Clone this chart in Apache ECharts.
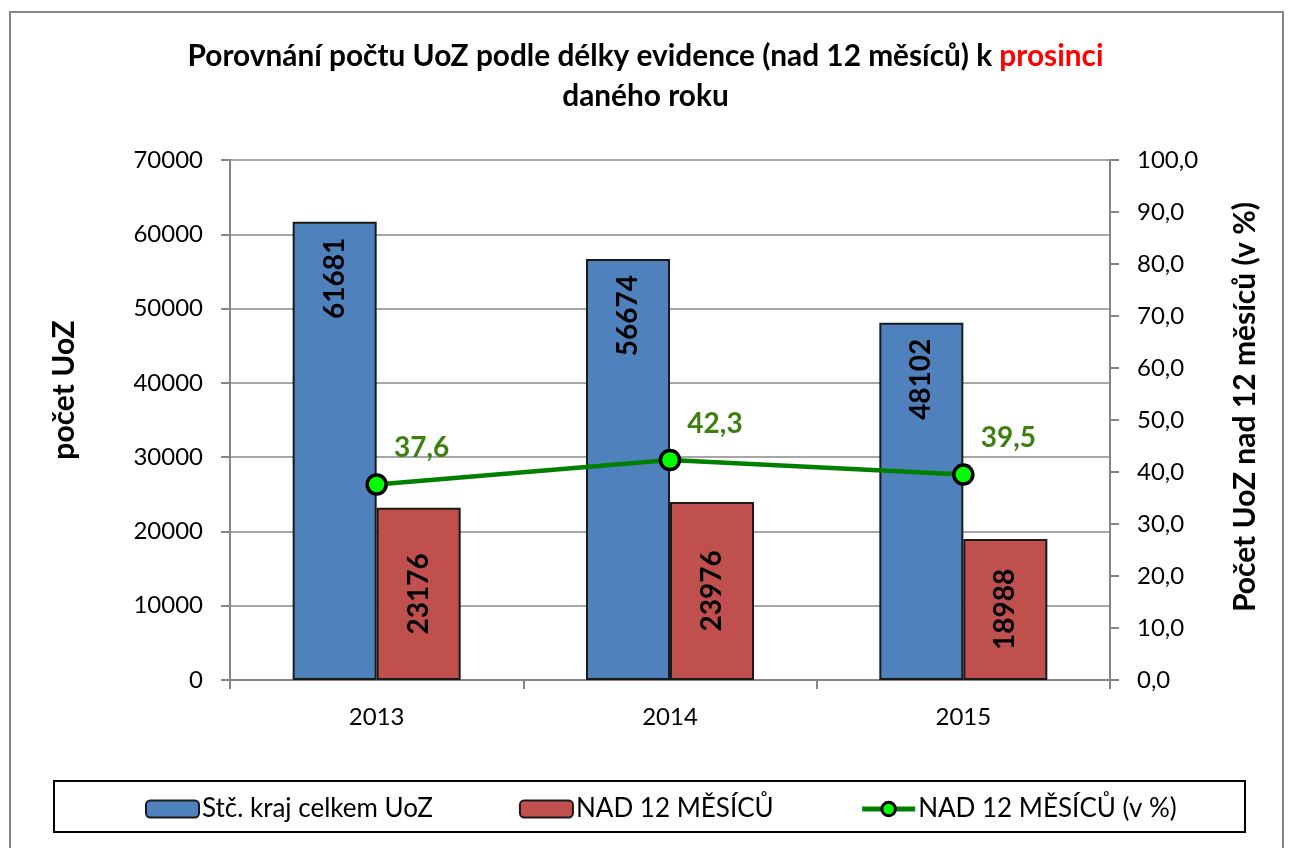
<!DOCTYPE html>
<html>
<head>
<meta charset="utf-8">
<script src="https://cdn.jsdelivr.net/npm/echarts@6/dist/echarts.min.js"></script>
<style>
  html, body { margin: 0; padding: 0; background: #fff; }
  #chart { width: 1291px; height: 848px; }
</style>
</head>
<body>
<div id="chart"></div>
<script>
// Years on the category axis
const years = ['2013', '2014', '2015'];
// Registered job seekers, whole region
const totalUoZ = [61681, 56674, 48102];
// Of which registered for more than 12 months
const over12 = [23176, 23976, 18988];
// Share registered for more than 12 months (%)
const over12Pct = [37.6, 42.3, 39.5];

// Axis ranges
const leftMax = 70000, leftStep = 10000;
const rightMax = 100, rightStep = 10;

const FONT = 'Lato, "Noto Sans", sans-serif';
const AXIS_GREY = '#868686';
const TICK_SIZE = 24;

const chart = echarts.init(document.getElementById('chart'), null, { renderer: 'canvas' });

const comma1 = v => Number(v).toFixed(1).replace('.', ',');

chart.setOption({
  backgroundColor: '#ffffff',
  textStyle: { fontFamily: FONT },
  title: {
    left: 'center',
    top: 31,
    text: '{a|Porovnání počtu UoZ podle délky evidence (nad 12 měsíců) k }{r|prosinci}\n{a|daného roku}',
    textStyle: {
      rich: {
        a: { fontFamily: FONT, fontWeight: 'bold', fontSize: 29.8, color: '#000', lineHeight: 40 },
        r: { fontFamily: FONT, fontWeight: 'bold', fontSize: 29.8, color: '#FF0000', lineHeight: 40 }
      }
    }
  },
  graphic: [
    { type: 'rect', shape: { x: 10, y: 12, width: 1273, height: 860 },
      style: { fill: 'none', stroke: AXIS_GREY, lineWidth: 2 }, silent: true, z: -1 },
    { type: 'rect', shape: { x: 54, y: 781, width: 1191, height: 51 },
      style: { fill: 'none', stroke: '#000', lineWidth: 2 }, silent: true, z: -1 }
  ],
  legend: {
    top: 791,
    left: 140,
    itemWidth: 53,
    itemHeight: 17,
    itemGap: 86,
    textStyle: { fontFamily: FONT, fontSize: 26, color: '#000', padding: [0, 0, 0, -2] },
    data: [
      'Stč. kraj celkem UoZ',
      'NAD 12 MĚSÍCŮ',
      { name: 'NAD 12 MĚSÍCŮ (v %)', lineStyle: { width: 5 }, itemStyle: { borderWidth: 3 } }
    ]
  },
  grid: { left: 230, right: 181, top: 160, bottom: 168, containLabel: false },
  xAxis: {
    type: 'category',
    data: years,
    axisLine: { lineStyle: { color: AXIS_GREY, width: 2 } },
    axisTick: { show: true, length: 9, lineStyle: { color: AXIS_GREY, width: 2 } },
    axisLabel: { margin: 25, fontFamily: FONT, fontSize: TICK_SIZE, color: '#000' }
  },
  yAxis: [
    {
      type: 'value',
      min: 0, max: leftMax, interval: leftStep,
      name: 'počet UoZ',
      nameLocation: 'middle',
      nameRotate: 90,
      nameGap: 151,
      nameTextStyle: { fontFamily: FONT, fontWeight: 'bold', fontSize: 30, color: '#000', padding: [0, 0, 0, 60] },
      axisLine: { show: true, lineStyle: { color: AXIS_GREY, width: 2 } },
      axisTick: { show: true, length: 9, lineStyle: { color: AXIS_GREY, width: 2 } },
      axisLabel: { margin: 27, fontFamily: FONT, fontSize: TICK_SIZE, color: '#000', formatter: v => String(v) },
      splitLine: { show: true, lineStyle: { color: '#A6A6A6', width: 2 } }
    },
    {
      type: 'value',
      min: 0, max: rightMax, interval: rightStep,
      position: 'right',
      name: 'Počet UoZ nad 12 měsíců (v %)',
      nameLocation: 'middle',
      nameRotate: 90,
      nameGap: 120,
      nameTextStyle: { fontFamily: FONT, fontWeight: 'bold', fontSize: 30, color: '#000', padding: [0, 0, 0, 26] },
      axisLine: { show: true, lineStyle: { color: AXIS_GREY, width: 2 } },
      axisTick: { show: true, length: 9, lineStyle: { color: AXIS_GREY, width: 2 } },
      axisLabel: { margin: 27, fontFamily: FONT, fontSize: TICK_SIZE, color: '#000', formatter: comma1 },
      splitLine: { show: false }
    }
  ],
  series: [
    {
      name: 'Stč. kraj celkem UoZ',
      type: 'bar',
      data: totalUoZ,
      barWidth: 84,
      barGap: '0%',
      itemStyle: { color: '#4F81BD', borderColor: '#1a1a1a', borderWidth: 2 },
      label: {
        show: true,
        position: 'insideTop',
        distance: 16,
        rotate: 90,
        align: 'right',
        verticalAlign: 'middle',
        fontFamily: FONT, fontWeight: 'bold', fontSize: 28, color: '#000'
      }
    },
    {
      name: 'NAD 12 MĚSÍCŮ',
      type: 'bar',
      data: over12,
      barWidth: 84,
      barGap: '0%',
      itemStyle: { color: '#C0504D', borderColor: '#1a1a1a', borderWidth: 2 },
      label: {
        show: true,
        position: 'inside',
        rotate: 90,
        fontFamily: FONT, fontWeight: 'bold', fontSize: 28, color: '#000'
      }
    },
    {
      name: 'NAD 12 MĚSÍCŮ (v %)',
      type: 'line',
      yAxisIndex: 1,
      data: over12Pct,
      symbol: 'circle',
      symbolSize: 19,
      lineStyle: { color: '#008000', width: 4.5 },
      itemStyle: { color: '#00FF00', borderColor: '#000', borderWidth: 3.5 },
      label: {
        show: true,
        position: 'top',
        distance: 11,
        offset: [45, 0],
        formatter: p => comma1(p.value),
        fontFamily: FONT, fontWeight: 'bold', fontSize: 28, color: '#3F7F10'
      },
      z: 5
    }
  ]
});
</script>
</body>
</html>
